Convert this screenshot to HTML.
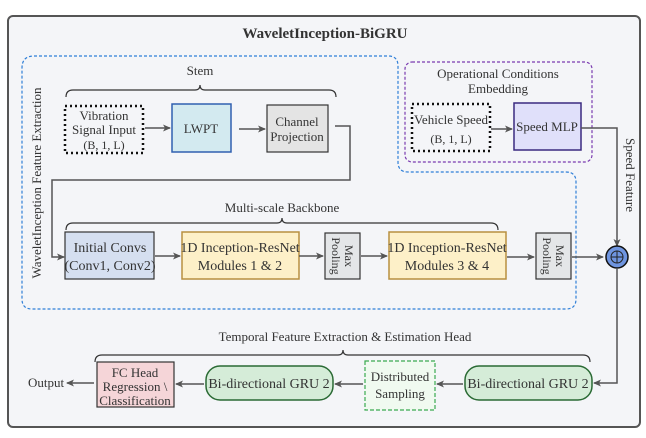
<!DOCTYPE html>
<html><head><meta charset="utf-8"><style>
body{margin:0;background:#fff}
svg{display:block;font-family:"Liberation Serif",serif}
text{fill:#333}
</style></head><body>
<svg width="646" height="438" viewBox="0 0 646 438" xmlns="http://www.w3.org/2000/svg">
<defs>
<marker id="a" markerWidth="8" markerHeight="8" refX="7" refY="4" orient="auto" markerUnits="userSpaceOnUse">
<path d="M0,0.5 L8,4 L0,7.5 L2,4 Z" fill="#555"/></marker>
</defs>
<rect x="8" y="16" width="632" height="411" rx="5" fill="#f4f5f8" stroke="#555" stroke-width="2"/>
<text x="325" y="38" font-size="15" font-weight="bold" text-anchor="middle" fill="#111">WaveletInception-BiGRU</text>

<path d="M34,56 H388 Q398,56 398,66 V162 Q398,172 408,172 H566 Q576,172 576,182 V299 Q576,309 566,309 H32 Q22,309 22,299 V68 Q22,56 34,56 Z" fill="none" stroke="#2f7fd8" stroke-width="1.2" stroke-dasharray="3,2"/>
<text transform="translate(41,183) rotate(-90)" font-size="13" text-anchor="middle">WaveletInception Feature Extraction</text>

<rect x="405" y="62" width="187" height="100" rx="7" fill="none" stroke="#7a3bb0" stroke-width="1.2" stroke-dasharray="3,2"/>
<text x="498" y="78" font-size="13" text-anchor="middle">Operational Conditions</text>
<text x="498" y="93" font-size="13" text-anchor="middle">Embedding</text>
<rect x="412" y="104" width="78" height="47" fill="none" stroke="#111" stroke-width="2.5" stroke-dasharray="2,3"/>
<text x="451" y="124" font-size="13" text-anchor="middle">Vehicle Speed</text>
<text x="451" y="143" font-size="12" text-anchor="middle">(B, 1, L)</text>
<rect x="514" y="103" width="67" height="47" fill="#e0e0fa" stroke="#3a2a80" stroke-width="1.5"/>
<text x="547" y="131" font-size="13" text-anchor="middle">Speed MLP</text>
<line x1="491" y1="129" x2="512" y2="129" stroke="#555" stroke-width="1.5" marker-end="url(#a)"/>
<path d="M581,128 H617 V246" fill="none" stroke="#555" stroke-width="1.5" marker-end="url(#a)"/>
<text transform="translate(626,175) rotate(90)" font-size="13" text-anchor="middle">Speed Feature</text>

<text x="200" y="75" font-size="13" text-anchor="middle">Stem</text>
<path d="M66,97 Q66,90 73,90 H195 Q200,90 200,85 Q200,90 205,90 H329 Q336,90 336,97" fill="none" stroke="#333" stroke-width="1.2"/>
<rect x="65" y="106" width="78" height="47" fill="none" stroke="#111" stroke-width="2.5" stroke-dasharray="2,3"/>
<text x="104" y="120" font-size="13" text-anchor="middle">Vibration</text>
<text x="104" y="134" font-size="13" text-anchor="middle">Signal Input</text>
<text x="104" y="149" font-size="12" text-anchor="middle">(B, 1, L)</text>
<rect x="172" y="104" width="59" height="48" fill="#d3eaf0" stroke="#3060b0" stroke-width="1.5"/>
<text x="201" y="133" font-size="13" text-anchor="middle">LWPT</text>
<rect x="267" y="105" width="61" height="47" fill="#e4e4e4" stroke="#333" stroke-width="1.2"/>
<text x="297" y="126" font-size="13" text-anchor="middle">Channel</text>
<text x="297" y="141" font-size="13" text-anchor="middle">Projection</text>
<line x1="145" y1="128" x2="170" y2="128" stroke="#555" stroke-width="1.5" marker-end="url(#a)"/>
<line x1="239" y1="129" x2="265" y2="129" stroke="#555" stroke-width="1.5" marker-end="url(#a)"/>
<path d="M335,126 H350 V180 H52 V257 H64" fill="none" stroke="#555" stroke-width="1.5" marker-end="url(#a)"/>

<text x="282" y="212" font-size="13" text-anchor="middle">Multi-scale Backbone</text>
<path d="M66,230 Q66,223 73,223 H277 Q282,223 282,218 Q282,223 287,223 H491 Q498,223 498,230" fill="none" stroke="#333" stroke-width="1.2"/>
<rect x="65" y="232" width="89" height="47" fill="#d5dff0" stroke="#333" stroke-width="1.2"/>
<text x="110" y="252" font-size="14" text-anchor="middle">Initial Convs</text>
<text x="110" y="270" font-size="14" text-anchor="middle">(Conv1, Conv2)</text>
<rect x="182" y="232" width="117" height="47" fill="#fdf0c8" stroke="#b89040" stroke-width="1.5"/>
<text x="240" y="252" font-size="14" text-anchor="middle">1D Inception-ResNet</text>
<text x="240" y="270" font-size="14" text-anchor="middle">Modules 1 &amp; 2</text>
<rect x="325" y="233" width="35" height="46" fill="#e4e6e8" stroke="#333" stroke-width="1.2"/>
<text transform="translate(342,256) rotate(90)" font-size="12" text-anchor="middle"><tspan x="0" y="-3">Max</tspan><tspan x="0" y="10">Pooling</tspan></text>
<rect x="389" y="232" width="117" height="47" fill="#fdf0c8" stroke="#b89040" stroke-width="1.5"/>
<text x="447" y="252" font-size="14" text-anchor="middle">1D Inception-ResNet</text>
<text x="447" y="270" font-size="14" text-anchor="middle">Modules 3 &amp; 4</text>
<rect x="536" y="233" width="35" height="46" fill="#e4e6e8" stroke="#333" stroke-width="1.2"/>
<text transform="translate(553,256) rotate(90)" font-size="12" text-anchor="middle"><tspan x="0" y="-3">Max</tspan><tspan x="0" y="10">Pooling</tspan></text>
<line x1="155" y1="256" x2="180" y2="256" stroke="#555" stroke-width="1.5" marker-end="url(#a)"/>
<line x1="299" y1="256" x2="323" y2="256" stroke="#555" stroke-width="1.5" marker-end="url(#a)"/>
<line x1="361" y1="256" x2="387" y2="256" stroke="#555" stroke-width="1.5" marker-end="url(#a)"/>
<line x1="507" y1="257" x2="534" y2="257" stroke="#555" stroke-width="1.5" marker-end="url(#a)"/>
<line x1="572" y1="257" x2="603" y2="257" stroke="#555" stroke-width="1.5" marker-end="url(#a)"/>
<circle cx="617" cy="257" r="11" fill="#6f95e0" stroke="#111" stroke-width="1.5"/>
<circle cx="617" cy="257" r="6" fill="none" stroke="#222" stroke-width="1"/>
<line x1="611" y1="257" x2="623" y2="257" stroke="#222" stroke-width="1"/>
<line x1="617" y1="251" x2="617" y2="263" stroke="#222" stroke-width="1"/>

<text x="345" y="341" font-size="13" text-anchor="middle">Temporal Feature Extraction &amp; Estimation Head</text>
<path d="M95,362 Q95,355 102,355 H338 Q343,355 343,350 Q343,355 348,355 H583 Q590,355 590,362" fill="none" stroke="#333" stroke-width="1.2"/>
<rect x="97" y="362" width="77" height="45" fill="#f5d5d8" stroke="#333" stroke-width="1.2"/>
<text x="135" y="377" font-size="13" text-anchor="middle">FC Head</text>
<text x="135" y="391" font-size="13" text-anchor="middle">Regression \</text>
<text x="135" y="405" font-size="13" text-anchor="middle">Classification</text>
<rect x="206" y="366" width="127" height="34" rx="14" fill="#d5ecd8" stroke="#2a6a34" stroke-width="1.5"/>
<text x="269" y="388" font-size="14" text-anchor="middle">Bi-directional GRU 2</text>
<rect x="365" y="361" width="70" height="49" fill="#f0faf0" stroke="#3aaa50" stroke-width="1.2" stroke-dasharray="4,2"/>
<text x="400" y="381" font-size="13" text-anchor="middle">Distributed</text>
<text x="400" y="398" font-size="13" text-anchor="middle">Sampling</text>
<rect x="465" y="366" width="127" height="34" rx="14" fill="#d5ecd8" stroke="#2a6a34" stroke-width="1.5"/>
<text x="528" y="388" font-size="14" text-anchor="middle">Bi-directional GRU 2</text>
<path d="M617,269 V383 H594" fill="none" stroke="#555" stroke-width="1.5" marker-end="url(#a)"/>
<line x1="463" y1="384" x2="437" y2="384" stroke="#555" stroke-width="1.5" marker-end="url(#a)"/>
<line x1="363" y1="384" x2="335" y2="384" stroke="#555" stroke-width="1.5" marker-end="url(#a)"/>
<line x1="204" y1="384" x2="176" y2="384" stroke="#555" stroke-width="1.5" marker-end="url(#a)"/>
<line x1="94" y1="383" x2="67" y2="383" stroke="#555" stroke-width="1.5" marker-end="url(#a)"/>
<text x="46" y="387" font-size="13" text-anchor="middle">Output</text>
</svg>
</body></html>
